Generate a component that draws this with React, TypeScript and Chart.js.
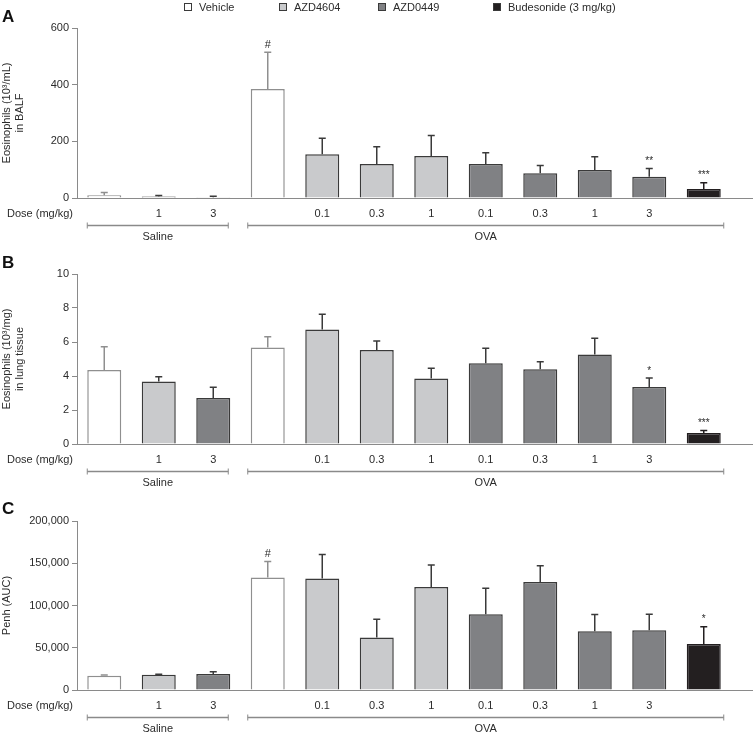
import React, { useEffect, useRef } from 'react';
import { Chart, registerables } from 'chart.js';

Chart.register(...registerables);

const FONT = "'Liberation Sans', Arial, Helvetica, sans-serif";

// ---- data ----
const doseLabels = ['', '1', '3', '', '0.1', '0.3', '1', '0.1', '0.3', '1', '3', ''];
const treatments = ['Vehicle', 'AZD4604', 'AZD0449', 'Vehicle', 'AZD4604', 'AZD4604', 'AZD4604', 'AZD0449', 'AZD0449', 'AZD0449', 'AZD0449', 'Budesonide'];
const legendLabels = ['Vehicle', 'AZD4604', 'AZD0449', 'Budesonide (3 mg/kg)'];
const legendKeys = ['Vehicle', 'AZD4604', 'AZD0449', 'Budesonide'];
const groupLabels = ['Saline', 'OVA'];
const doseTitle = 'Dose (mg/kg)';

const balfValues = [10, 5, 3, 385, 154, 120, 148, 120, 87, 99, 75, 32];
const balfErrors = [9, 4, 3, 129, 57, 61, 73, 40, 28, 47, 29, 22];
const balfMarks = ['', '', '', '#', '', '', '', '', '', '', '**', '***'];

const lungValues = [4.35, 3.67, 2.7, 5.67, 6.73, 5.53, 3.86, 4.75, 4.39, 5.27, 3.35, 0.65];
const lungErrors = [1.37, 0.29, 0.64, 0.64, 0.9, 0.53, 0.59, 0.88, 0.45, 0.95, 0.53, 0.15];
const lungMarks = ['', '', '', '', '', '', '', '', '', '', '*', '***'];

const penhValues = [17000, 18000, 19000, 133000, 132000, 62000, 122000, 89500, 127700, 69400, 70600, 54400];
const penhErrors = [800, 700, 2500, 19000, 28500, 21600, 26000, 31000, 19300, 20000, 19000, 20600];
const penhMarks = ['', '', '', '#', '', '', '', '', '', '', '', '*'];

// ---- styles ----
const fillColors: Record<string, string> = {
  Vehicle: '#ffffff',
  AZD4604: '#c9cacc',
  AZD0449: '#808184',
  Budesonide: '#231f20',
};
const edgeColors: Record<string, string> = {
  Vehicle: '#8f8f8f',
  AZD4604: '#3a3a3a',
  AZD0449: '#3a3a3a',
  Budesonide: '#231f20',
};
const AXIS = '#8a8a8a';
const TEXT = '#2b2b2b';

type Panel = {
  letter: string;
  values: number[];
  errors: number[];
  marks: string[];
  yMax: number;
  yStep: number;
  yTitle: string | string[];
  height: number;
  top: number;
  padTop: number;
  legend: boolean;
};

const panels: Panel[] = [
  { letter: 'A', values: balfValues, errors: balfErrors, marks: balfMarks, yMax: 600, yStep: 200, yTitle: ['Eosinophils (10\u00B3/mL)', 'in BALF'], height: 246, top: 0, padTop: 28, legend: true },
  { letter: 'B', values: lungValues, errors: lungErrors, marks: lungMarks, yMax: 10, yStep: 2, yTitle: ['Eosinophils (10\u00B3/mg)', 'in lung tissue'], height: 246, top: 246, padTop: 28, legend: false },
  { letter: 'C', values: penhValues, errors: penhErrors, marks: penhMarks, yMax: 200000, yStep: 50000, yTitle: 'Penh (AUC)', height: 244, top: 492, padTop: 29, legend: false },
];

function makeOverlay(p: Panel) {
  return {
    id: 'overlay' + p.letter,
    afterDatasetsDraw(chart: any) {
      const ctx = chart.ctx as CanvasRenderingContext2D;
      const ys = chart.scales.y;
      const xs = chart.scales.x;
      const meta = chart.getDatasetMeta(0);
      const area = chart.chartArea;
      ctx.save();
      // error bars
      p.values.forEach((v, i) => {
        const bar = meta.data[i] as any;
        const x = bar.x;
        const y0 = ys.getPixelForValue(v);
        const y1 = ys.getPixelForValue(v + p.errors[i]);
        ctx.strokeStyle = edgeColors[treatments[i]];
        ctx.lineWidth = 1.5;
        ctx.beginPath();
        ctx.moveTo(x, y0);
        ctx.lineTo(x, y1);
        ctx.moveTo(x - 3.5, y1);
        ctx.lineTo(x + 3.5, y1);
        ctx.stroke();
        if (p.marks[i]) {
          ctx.fillStyle = TEXT;
          ctx.textAlign = 'center';
          ctx.textBaseline = 'bottom';
          ctx.font = (p.marks[i] === '#' ? '11px ' : '10px ') + FONT;
          ctx.fillText(p.marks[i], x, y1 - 2);
        }
      });
      // baseline
      ctx.strokeStyle = AXIS;
      ctx.lineWidth = 1;
      ctx.beginPath();
      ctx.moveTo(area.left, area.bottom + 0.5);
      ctx.lineTo(chart.width, area.bottom + 0.5);
      ctx.stroke();

      // dose title
      ctx.fillStyle = TEXT;
      ctx.font = '11px ' + FONT;
      ctx.textAlign = 'left';
      ctx.textBaseline = 'middle';
      ctx.fillText(doseTitle, 7, area.bottom + 16);

      // brackets
      const bw = (meta.data[0] as any).width;
      const by = Math.round(area.bottom + 27) + 0.5;
      const groups = [
        { a: xs.getPixelForValue(0) - bw / 2, b: xs.getPixelForValue(2) + bw / 2 - 2, label: groupLabels[0] },
        { a: xs.getPixelForValue(3) - bw / 2 - 3, b: xs.getPixelForValue(11) + bw / 2 + 3, label: groupLabels[1] },
      ];
      groups.forEach((g) => {
        ctx.strokeStyle = AXIS;
        ctx.lineWidth = 1.5;
        ctx.beginPath();
        ctx.moveTo(g.a, by);
        ctx.lineTo(g.b, by);
        ctx.stroke();
        ctx.lineWidth = 1;
        ctx.beginPath();
        ctx.moveTo(g.a, by - 3);
        ctx.lineTo(g.a, by + 3);
        ctx.moveTo(g.b, by - 3);
        ctx.lineTo(g.b, by + 3);
        ctx.stroke();
        ctx.fillStyle = TEXT;
        ctx.textAlign = 'center';
        ctx.textBaseline = 'middle';
        ctx.font = '11px ' + FONT;
        ctx.fillText(g.label, (g.a + g.b) / 2, area.bottom + 39);
      });

      // panel letter
      ctx.fillStyle = '#111';
      ctx.font = 'bold 17px ' + FONT;
      ctx.textAlign = 'left';
      ctx.textBaseline = 'middle';
      ctx.fillText(p.letter, 2, 17);

      // legend
      if (p.legend) {
        const lx = [184, 279, 378, 493];
        legendLabels.forEach((lab, k) => {
          const key = legendKeys[k];
          ctx.fillStyle = fillColors[key];
          ctx.fillRect(lx[k], 3, 8, 8);
          ctx.strokeStyle = '#3a3a3a';
          ctx.lineWidth = 1;
          ctx.strokeRect(lx[k] + 0.5, 3.5, 7, 7);
          ctx.fillStyle = TEXT;
          ctx.font = '11px ' + FONT;
          ctx.textAlign = 'left';
          ctx.textBaseline = 'middle';
          ctx.fillText(lab, lx[k] + 15, 7.5);
        });
      }
      ctx.restore();
    },
  };
}

function PanelChart({ p }: { p: Panel }) {
  const ref = useRef<HTMLCanvasElement | null>(null);
  useEffect(() => {
    if (!ref.current) return;
    const chart = new Chart(ref.current, {
      type: 'bar',
      data: {
        labels: doseLabels,
        datasets: [
          {
            data: p.values,
            backgroundColor: treatments.map((t) => fillColors[t]),
            borderColor: treatments.map((t) => edgeColors[t]),
            borderWidth: 1.5,
            barPercentage: 34 / 54.5,
            categoryPercentage: 1,
          },
        ],
      },
      options: {
        responsive: false,
        animation: false,
        devicePixelRatio: 1,
        layout: { padding: { left: 0, right: 22, top: p.padTop, bottom: 0 } },
        plugins: { legend: { display: false }, tooltip: { enabled: false } },
        scales: {
          x: {
            grid: { display: false, drawTicks: false },
            border: { display: false },
            ticks: { color: TEXT, font: { family: FONT, size: 11 }, padding: 9, maxRotation: 0, autoSkip: false },
            afterFit: (s: any) => {
              s.height = p.height - 198;
            },
          },
          y: {
            min: 0,
            max: p.yMax,
            ticks: {
              stepSize: p.yStep,
              color: TEXT,
              font: { family: FONT, size: 11 },
              padding: 3,
              callback: (v: any) => Number(v).toLocaleString('en-US'),
            },
            grid: { drawOnChartArea: false, tickLength: 5, color: AXIS, lineWidth: 1 },
            border: { color: AXIS, width: 1 },
            title: {
              display: true,
              text: p.yTitle,
              color: TEXT,
              font: { family: FONT, size: 11, lineHeight: 1.15 },
              padding: { top: 1, bottom: 0 },
            },
            afterFit: (s: any) => {
              s.width = 77;
            },
          },
        },
      },
      plugins: [makeOverlay(p)],
    } as any);
    return () => chart.destroy();
  }, [p]);
  return (
    <canvas
      ref={ref}
      width={753}
      height={p.height}
      style={{ position: 'absolute', left: 0, top: p.top, width: 753, height: p.height }}
    />
  );
}

export default function App() {
  return (
    <div style={{ position: 'absolute', left: 0, top: 0, width: 753, height: 736, background: '#fff', overflow: 'hidden' }}>
      {panels.map((p) => (
        <PanelChart key={p.letter} p={p} />
      ))}
    </div>
  );
}
